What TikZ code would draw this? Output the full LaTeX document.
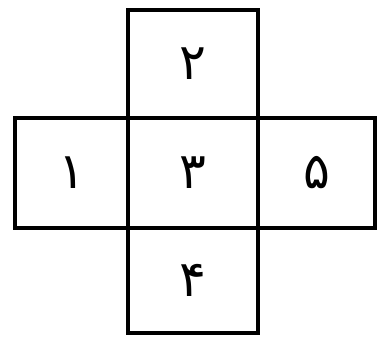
\documentclass[tikz,border=0pt]{standalone}
\usepackage{fontspec}
\newfontfamily\arabicfont[Script=Arabic]{DejaVu Sans}
\begin{document}
\begin{tikzpicture}[x=1pt, y=-1pt, line width=3.5pt,
    cell/.style={draw, rectangle, inner sep=0pt, font=\arabicfont\fontsize{50}{60}\selectfont}]
    % Khung
    \useasboundingbox (0,0) rectangle (377,354);
    
    % Năm ô của hình chữ thập
    \node[cell, minimum width=130, minimum height=108] (tren) at (193,64) {۲};
    \node[cell, minimum width=113, minimum height=110] (trai) at (71.5,173) {۱};
    \node[cell, minimum width=130, minimum height=110] (giua) at (193,173) {۳};
    \node[cell, minimum width=117, minimum height=110] (phai) at (316.5,173) {۵};
    \node[cell, minimum width=130, minimum height=105] (duoi) at (193,280.5) {۴};
    
\end{tikzpicture}
\end{document}
